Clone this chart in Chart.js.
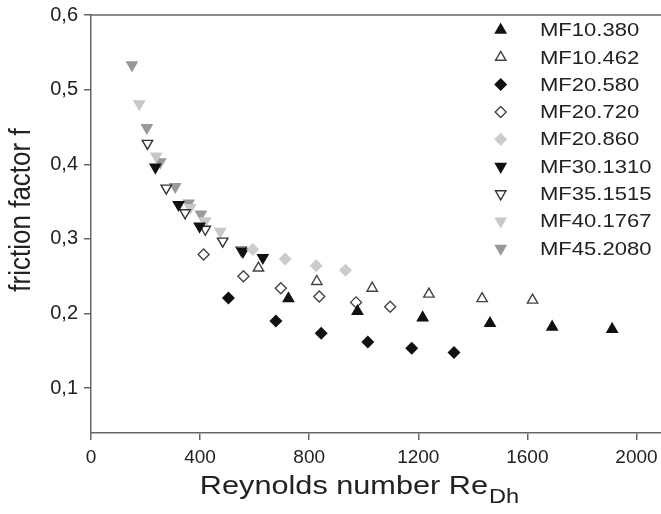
<!DOCTYPE html>
<html>
<head>
<meta charset="utf-8">
<script src="https://cdn.jsdelivr.net/npm/chart.js@4.4.1/dist/chart.umd.min.js"></script>
<style>
html,body{margin:0;padding:0;background:#fff;}
#wrap{width:661px;height:514px;}
</style>
</head>
<body>
<div id="wrap"><canvas id="c" width="661" height="514"></canvas></div>
<script>
// ---- data ----
const seriesNames = ['MF10.380','MF10.462','MF20.580','MF20.720','MF20.860','MF30.1310','MF35.1515','MF40.1767','MF45.2080'];

const mf10_380_x = [724, 977, 1216, 1463, 1691, 1911];
const mf10_380_y = [0.220, 0.203, 0.1945, 0.187, 0.182, 0.179];
const mf10_462_x = [614, 828, 1031, 1239, 1434, 1619];
const mf10_462_y = [0.261, 0.243, 0.234, 0.226, 0.220, 0.218];
const mf20_580_x = [504, 678, 844, 1015, 1176, 1331];
const mf20_580_y = [0.221, 0.190, 0.1735, 0.162, 0.1535, 0.148];
const mf20_720_x = [413, 559, 696, 837, 972, 1097];
const mf20_720_y = [0.279, 0.250, 0.234, 0.223, 0.215, 0.209];
const mf20_860_x = [593, 712, 826, 933];
const mf20_860_y = [0.286, 0.273, 0.264, 0.258];
const mf30_1310_x = [236, 321, 398, 557, 630];
const mf30_1310_y = [0.396, 0.346, 0.317, 0.283, 0.275];
const mf35_1515_x = [207, 276, 345, 419, 483, 551];
const mf35_1515_y = [0.428, 0.368, 0.335, 0.313, 0.297, 0.285];
const mf40_1767_x = [177, 239, 364, 419, 474];
const mf40_1767_y = [0.481, 0.411, 0.342, 0.324, 0.310];
const mf45_2080_x = [150, 205, 254, 309, 358, 403];
const mf45_2080_y = [0.533, 0.449, 0.403, 0.370, 0.348, 0.333];

const xTicks = [0, 400, 800, 1200, 1600, 2000];
const yTicks = [0.1, 0.2, 0.3, 0.4, 0.5, 0.6];
const xTitle = 'Reynolds number Re';
const xTitleSub = 'Dh';
const yTitle = 'friction factor f';

// ---- build ----
const FONT = "'Liberation Sans', Arial, sans-serif";
const pts = (xs, ys) => xs.map((x, i) => ({x: x, y: ys[i]}));

const styles = [
  {shape:'triangle', rot:0,   fill:'#111111', stroke:'#111111', r:6},
  {shape:'triangle', rot:0,   fill:'#ffffff', stroke:'#444444', r:6},
  {shape:'rectRot',  rot:0,   fill:'#111111', stroke:'#111111', r:5.5},
  {shape:'rectRot',  rot:0,   fill:'#ffffff', stroke:'#444444', r:5.5},
  {shape:'rectRot',  rot:0,   fill:'#cccccc', stroke:'#cccccc', r:5.5},
  {shape:'triangle', rot:180, fill:'#111111', stroke:'#111111', r:6},
  {shape:'triangle', rot:180, fill:'#ffffff', stroke:'#333333', r:6},
  {shape:'triangle', rot:180, fill:'#c8c8c8', stroke:'#c8c8c8', r:6},
  {shape:'triangle', rot:180, fill:'#999999', stroke:'#999999', r:6}
];
const dataSets = [
  pts(mf10_380_x, mf10_380_y), pts(mf10_462_x, mf10_462_y),
  pts(mf20_580_x, mf20_580_y), pts(mf20_720_x, mf20_720_y),
  pts(mf20_860_x, mf20_860_y), pts(mf30_1310_x, mf30_1310_y),
  pts(mf35_1515_x, mf35_1515_y), pts(mf40_1767_x, mf40_1767_y),
  pts(mf45_2080_x, mf45_2080_y)
];

const datasets = seriesNames.map((n, i) => ({
  label: n,
  data: dataSets[i],
  pointStyle: styles[i].shape,
  rotation: styles[i].rot,
  pointRadius: styles[i].r,
  pointHoverRadius: styles[i].r,
  backgroundColor: styles[i].fill,
  borderColor: styles[i].stroke,
  pointBorderWidth: 1.4,
  showLine: false,
  clip: false
}));

function stretchedText(ctx, txt, x, y, sx) {
  ctx.save();
  ctx.translate(x, y);
  ctx.scale(sx, 1);
  ctx.fillText(txt, 0, 0);
  ctx.restore();
}

const decor = {
  id: 'decor',
  afterDraw(chart) {
    const ctx = chart.ctx;
    const a = chart.chartArea;
    ctx.save();
    // top frame line
    ctx.strokeStyle = '#666';
    ctx.lineWidth = 1.5;
    ctx.beginPath();
    ctx.moveTo(a.left, a.top);
    ctx.lineTo(a.right, a.top);
    ctx.stroke();

    // y title
    ctx.fillStyle = '#222';
    ctx.font = '26px ' + FONT;
    ctx.textAlign = 'center';
    ctx.textBaseline = 'middle';
    ctx.save();
    ctx.translate(22, 210);
    ctx.rotate(-Math.PI / 2);
    ctx.scale(1, 1.1);
    ctx.fillText(yTitle, 0, 0);
    ctx.restore();

    // x title with subscript
    const SX = 1.18;
    ctx.textBaseline = 'alphabetic';
    ctx.textAlign = 'left';
    ctx.font = '26px ' + FONT;
    const w1 = ctx.measureText(xTitle).width * SX;
    ctx.font = '20px ' + FONT;
    const w2 = ctx.measureText(xTitleSub).width * SX;
    const cx = 359;
    const x0 = cx - (w1 + w2) / 2;
    ctx.font = '26px ' + FONT;
    stretchedText(ctx, xTitle, x0, 494, SX);
    ctx.font = '20px ' + FONT;
    stretchedText(ctx, xTitleSub, x0 + w1 + 1, 503, SX);

    // legend
    const lx = 500.7, tx = 540, y0 = 30, dy = 27.3;
    ctx.font = '19px ' + FONT;
    ctx.textBaseline = 'middle';
    chart.data.datasets.forEach((ds, i) => {
      const y = y0 + i * dy;
      ctx.fillStyle = ds.backgroundColor;
      ctx.strokeStyle = ds.borderColor;
      ctx.lineWidth = ds.pointBorderWidth;
      Chart.helpers.drawPoint(ctx, {pointStyle: ds.pointStyle, rotation: ds.rotation, radius: ds.pointRadius, borderWidth: ds.pointBorderWidth}, lx, y);
      ctx.fillStyle = '#222';
      stretchedText(ctx, ds.label, tx, y + 1, 1.16);
    });
    ctx.restore();
  }
};

new Chart(document.getElementById('c'), {
  type: 'scatter',
  data: { datasets: datasets },
  options: {
    responsive: false,
    animation: false,
    layout: { autoPadding: false, padding: { top: 15, right: 0, left: 0, bottom: 0 } },
    plugins: { legend: { display: false }, tooltip: { enabled: false } },
    scales: {
      x: {
        type: 'linear', min: 0, max: 2090,
        afterBuildTicks: s => { s.ticks = xTicks.map(v => ({value: v})); },
        afterFit: s => { s.height = 81; s.paddingRight = 0; s.paddingLeft = 0; },
        ticks: { font: { family: FONT, size: 19 }, color: '#222', padding: 6, maxRotation: 0,
                 callback: v => String(v) },
        grid: { drawOnChartArea: false, drawTicks: true, tickLength: 7, color: '#666', lineWidth: 1.5 },
        border: { display: true, color: '#666', width: 1.5 },
        title: { display: false }
      },
      y: {
        type: 'linear', min: 0.04, max: 0.6,
        afterBuildTicks: s => { s.ticks = yTicks.map(v => ({value: v})); },
        afterFit: s => { s.width = 91; s.paddingTop = 0; s.paddingBottom = 0; },
        ticks: { font: { family: FONT, size: 20 }, color: '#222', padding: 6,
                 callback: v => v.toFixed(1).replace('.', ',') },
        grid: { drawOnChartArea: false, drawTicks: true, tickLength: 7, color: '#666', lineWidth: 1.5 },
        border: { display: true, color: '#666', width: 1.5 },
        title: { display: false, text: yTitle }
      }
    }
  },
  plugins: [decor]
});
</script>
</body>
</html>
